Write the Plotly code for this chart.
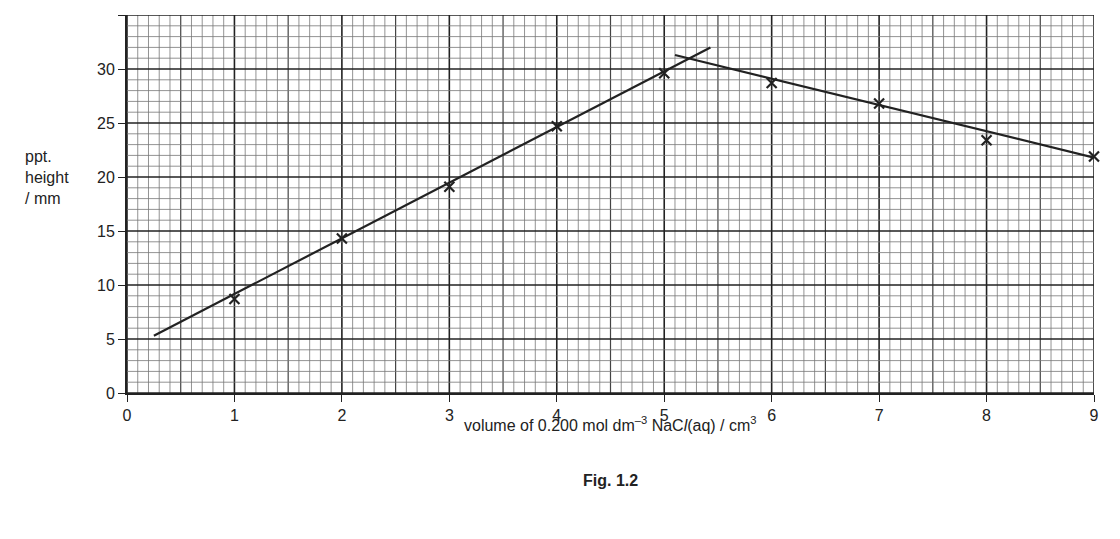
import plotly.graph_objects as go

x_vals = [1, 2, 3, 4, 5, 6, 7, 8, 9]
y_vals = [8.7, 14.3, 19.1, 24.7, 29.6, 28.7, 26.8, 23.4, 21.9]
line1_x = [0.25, 5.43]
line1_y = [5.3, 32.0]
line2_x = [5.1, 9.0]
line2_y = [31.3, 21.8]
x_ticks = list(range(0, 10))
y_ticks = list(range(0, 36, 5))

fig = go.Figure()
shapes = []
for i in range(0, 91):
    xv = i / 10
    if i % 10 == 0:
        w, c = 1.6, "#222"
    elif i % 5 == 0:
        w, c = 1.2, "#444"
    else:
        w, c = 0.8, "#777"
    shapes.append(dict(type="line", xref="x", yref="y", x0=xv, x1=xv, y0=0, y1=35,
                       line=dict(color=c, width=w), layer="below"))
for j in range(0, 36):
    if j % 5 == 0:
        w, c = 1.6, "#222"
    else:
        w, c = 0.8, "#777"
    shapes.append(dict(type="line", xref="x", yref="y", x0=0, x1=9, y0=j, y1=j,
                       line=dict(color=c, width=w), layer="below"))

fig.add_trace(go.Scatter(x=line1_x, y=line1_y, mode="lines", line=dict(color="#222", width=2.2)))
fig.add_trace(go.Scatter(x=line2_x, y=line2_y, mode="lines", line=dict(color="#222", width=2.2)))
fig.add_trace(go.Scatter(x=x_vals, y=y_vals, mode="markers",
                         marker=dict(symbol="x-thin", size=10, line=dict(color="#222", width=2.2)),
                         cliponaxis=False))

fig.update_layout(
    width=1120, height=539, showlegend=False,
    plot_bgcolor="white", paper_bgcolor="white",
    margin=dict(l=119, r=34, t=7, b=154),
    font=dict(family="Liberation Sans, Arial", size=16, color="#222"),
    shapes=shapes,
    xaxis=dict(range=[0, 9], tickvals=x_ticks, showgrid=False, zeroline=False,
               ticks="outside", ticklen=7, tickcolor="#222", linecolor="#222", linewidth=2,
               showline=True, tickfont=dict(size=16)),
    yaxis=dict(range=[0, 35], tickvals=y_ticks, showgrid=False, zeroline=False,
               ticks="outside", ticklen=7, tickcolor="#222", linecolor="#222", linewidth=2,
               showline=True, tickfont=dict(size=16)),
    annotations=[
        dict(text="ppt.<br>height<br>/ mm", xref="paper", yref="paper", x=-0.108, y=0.57,
             xanchor="left", yanchor="middle", align="left", showarrow=False, font=dict(size=16)),
        dict(text="volume of 0.200 mol dm<sup>–3</sup> NaC<i>l</i>(aq) / cm<sup>3</sup>",
             xref="paper", yref="paper", x=0.5, y=-0.05, xanchor="center", yanchor="top",
             showarrow=False, font=dict(size=16)),
        dict(text="<b>Fig. 1.2</b>", xref="paper", yref="paper", x=0.5, y=-0.205,
             xanchor="center", yanchor="top", showarrow=False, font=dict(size=16)),
    ],
)
fig.write_html("out.html")
